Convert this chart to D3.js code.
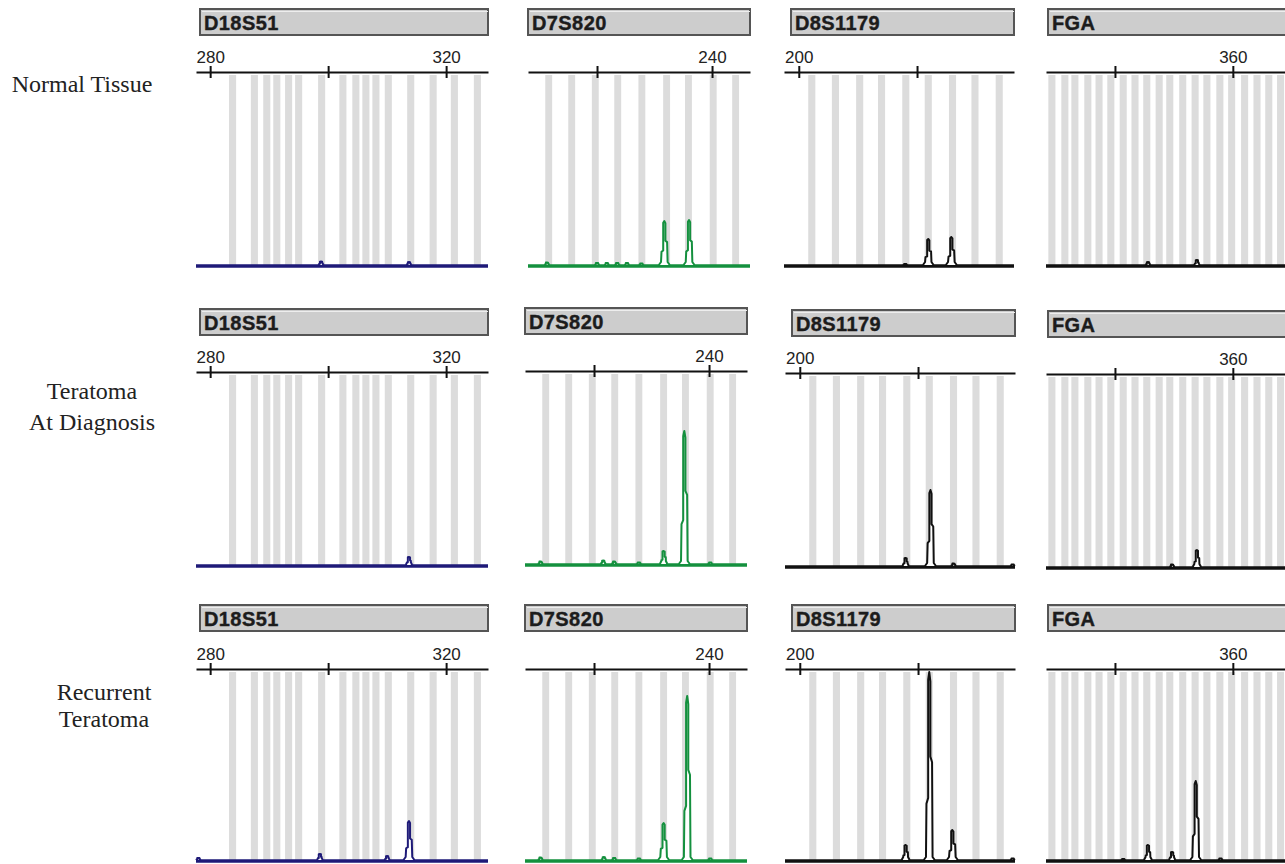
<!DOCTYPE html>
<html>
<head>
<meta charset="utf-8">
<script src="https://cdnjs.cloudflare.com/ajax/libs/d3/7.8.5/d3.min.js"></script>
<style>
  body { margin: 0; background: #fff; }
  svg { display: block; }
</style>
</head>
<body>
<div id="chart"></div>
<script>
"use strict";

// STR markers (columns) and sample rows
const markers = ["D18S51", "D7S820", "D8S1179", "FGA"];
const rowLabels = [["Normal Tissue"], ["Teratoma", "At Diagnosis"], ["Recurrent", "Teratoma"]];

// fragment size window (bp) shown for each marker
const sizeDomains = [[277.6, 327.1], [208, 246.6], [197.5, 236.4], [328.3, 369.7]];
const tickValues = [[280, 300, 320], [220, 240], [200, 220], [340, 360]];
const tickLabels = [[280, 320], [240], [200], [360]];

// allele bins (bp)
const binsD18S51 = [283.8, 287.5, 289.6, 291.3, 293.3, 295.0, 298.9, 302.5, 304.7, 306.4, 308.1, 310.2, 314.0, 317.8, 321.4, 325.3];
const binsD7S820 = [211.6, 215.6, 219.7, 223.6, 227.8, 232.1, 235.9, 240.2, 244.1];
const binsD8S1179 = [202.2, 206.2, 210.3, 214.0, 218.1, 221.9, 226.0, 229.8, 233.9];
const binsFGA = [329.3, 331.5, 333.2, 335.4, 337.3, 339.3, 341.4, 343.4, 345.4, 347.5, 349.3, 351.5, 353.6, 355.6, 357.8, 359.8, 362.0, 364.1, 366.1, 368.1];

// peaks: [size bp, height RFU]
const peaksNormal = [
  [[298.8, 35], [313.7, 30]],
  [[211.3, 25], [220.0, 20], [221.7, 20], [223.5, 20], [225.2, 20], [227.7, 15], [231.7, 440], [236.0, 450]],
  [[218.0, 10], [221.9, 260], [225.8, 280]],
  [[345.6, 30], [353.9, 50]]
];
const peaksDiagnosis = [
  [[313.7, 80]],
  [[210.7, 25], [221.6, 35], [223.5, 25], [227.8, 15], [232.1, 130], [235.7, 1330], [240.2, 15]],
  [[217.9, 80], [222.1, 760], [226.0, 25], [236.0, 15]],
  [[349.7, 25], [353.9, 170]]
];
const peaksRecurrent = [
  [[278.0, 20], [298.6, 60], [310.0, 40], [313.7, 390]],
  [[210.7, 25], [221.7, 30], [223.5, 20], [227.8, 15], [232.1, 370], [236.2, 1640], [240.2, 15]],
  [[217.9, 150], [221.9, 1880], [225.8, 300], [236.0, 15]],
  [[341.4, 10], [345.6, 150], [349.7, 80], [353.7, 790], [357.9, 15]]
];

const bins = [binsD18S51, binsD7S820, binsD8S1179, binsFGA];
const peaksByRow = [peaksNormal, peaksDiagnosis, peaksRecurrent];
const traceColors = ["#1e1a78", "#14903e", "#111111", "#111111"];

const width = 1285;
const height = 864;

const colX = [[196, 488], [528, 750], [784, 1014], [1046, 1290]];
const headerX = [[200, 488], [528, 750], [791, 1014], [1048, 1292]];
const rows = [
  { header: 9, axis: 72, base: 266 },
  { header: 309, axis: 372, base: 566 },
  { header: 605, axis: 669, base: 861 }
];
const panelDx = [[0, 0, 0, 0], [0, -3, 1, 0], [0, -3, 1, 0]];
const panelDy = [[0, 0, 0, 0], [0, -1, 1, 2], [0, 0, 0, 0]];
const labelX = [82, 92, 104];
const labelY = [[92], [399, 430], [700, 727]];

const svg = d3.select("#chart")
  .append("svg")
  .attr("width", width)
  .attr("height", height)
;

// row labels
rowLabels.forEach((lines, r) => {
  svg.append("text")
    .attr("text-anchor", "middle")
    .attr("font-family", "Liberation Serif, serif")
    .attr("font-size", 24)
    .attr("fill", "#222")
    .selectAll("tspan")
    .data(lines)
    .join("tspan")
    .attr("x", labelX[r])
    .attr("y", (d, i) => labelY[r][i])
    .text(d => d)
  ;
});

const line = d3.line();

rows.forEach((row, r) => {
  markers.forEach((marker, c) => {
    const g = svg.append("g")
      .attr("transform", `translate(${panelDx[r][c]},${panelDy[r][c]})`);

    const x = d3.scaleLinear().domain(sizeDomains[c]).range(colX[c]);
    const y = d3.scaleLinear().domain([0, 1940]).range([row.base, row.base - 194]);

    // marker header box
    g.append("rect")
      .attr("x", headerX[c][0])
      .attr("y", row.header)
      .attr("width", headerX[c][1] - headerX[c][0])
      .attr("height", 26)
      .attr("fill", "#cdcdcd")
      .attr("stroke", "#555")
      .attr("stroke-width", 2)
    ;
    g.append("line")
      .attr("x1", headerX[c][0] + 2)
      .attr("x2", headerX[c][1])
      .attr("y1", row.header + 2.5)
      .attr("y2", row.header + 2.5)
      .attr("stroke", "#eee")
      .attr("stroke-width", 1)
    ;
    g.append("text")
      .attr("x", headerX[c][0] + 4)
      .attr("y", row.header + 21)
      .attr("font-family", "Liberation Sans, Arial, sans-serif")
      .attr("font-weight", "bold")
      .attr("font-size", 20)
      .attr("letter-spacing", 0.4)
      .attr("fill", "#1c1c1c")
      .attr("stroke", "#1c1c1c")
      .attr("stroke-width", 0.4)
      .text(marker)
    ;

    // allele bins
    g.selectAll("rect.bin")
      .data(bins[c])
      .join("rect")
      .attr("class", "bin")
      .attr("x", d => x(d - 0.6))
      .attr("width", d => x(d + 0.6) - x(d - 0.6))
      .attr("y", row.axis + 3)
      .attr("height", row.base - row.axis - 3)
      .attr("fill", "#dcdcdc")
    ;

    // size axis
    const axis = d3.axisTop(x)
      .tickValues(tickValues[c])
      .tickSize(0)
      .tickPadding(9)
      .tickFormat(d => tickLabels[c].includes(d) ? d : "")
    ;
    const ag = g.append("g")
      .attr("transform", `translate(0,${row.axis})`)
      .call(axis)
    ;
    ag.attr("font-family", "Liberation Sans, Arial, sans-serif").attr("font-size", 17);
    ag.select(".domain").attr("stroke", "#111").attr("stroke-width", 2);
    ag.selectAll(".tick line").attr("y1", -6).attr("y2", 6).attr("stroke", "#111").attr("stroke-width", 2);
    ag.selectAll(".tick text").attr("fill", "#222");

    // baseline of the trace
    g.append("path")
      .datum(sizeDomains[c])
      .attr("d", d3.line().x(d => x(d)).y(() => y(0)))
      .attr("stroke", traceColors[c])
      .attr("stroke-width", 3.5)
      .attr("fill", "none")
    ;

    // peaks
    g.selectAll("path.peak")
      .data(peaksByRow[r][c])
      .join("path")
      .attr("class", "peak")
      .attr("d", d => {
        const cx = x(d[0]);
        const b = y(0) - 1;
        const h = y(0) - y(d[1]);
        const wB = Math.min(5.5, 2.2 + h * 0.12);
        const wM = Math.min(2.8, 1.5 + h * 0.05);
        const wT = 1.1;
        const pts = [
          [cx - wB, b],
          [cx - wB * 0.6, b - Math.min(3, h * 0.35)],
          [cx - wM, b - h * 0.3],
          [cx - wT, b - h * 0.33],
          [cx - wT, b - h * 0.96],
          [cx, b - h],
          [cx + wT, b - h * 0.95],
          [cx + wT, b - h * 0.55],
          [cx + wM, b - h * 0.52],
          [cx + wB * 0.6, b - Math.min(3, h * 0.35)],
          [cx + wB, b]
        ];
        return line(pts);
      })
      .attr("fill", "#fff")
      .attr("stroke", traceColors[c])
      .attr("stroke-width", 2)
      .attr("stroke-linejoin", "round")
    ;
  });
});
</script>
</body>
</html>
